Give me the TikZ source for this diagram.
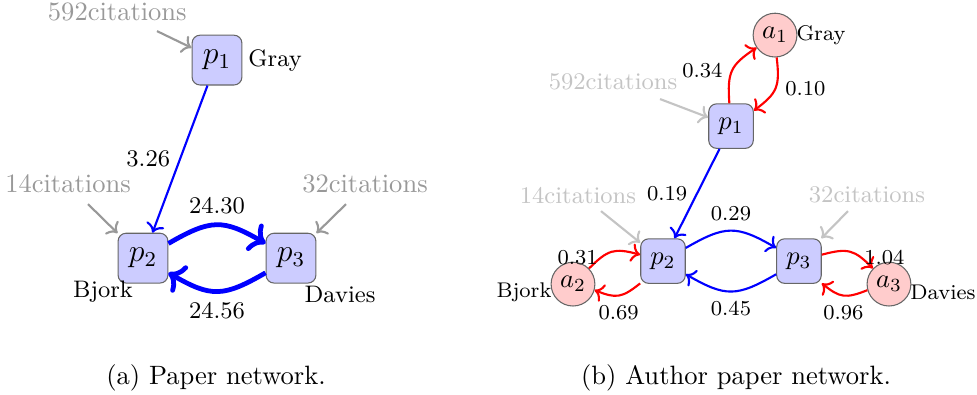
\documentclass[tikz,border=0pt]{standalone}
\usepackage{amsfonts,amssymb,amsmath}
\usepackage{xcolor}
\usepackage[]{tikz}
\usetikzlibrary{positioning,calc}
\usetikzlibrary{arrows.meta,arrows}
\definecolor{paperBlue}{HTML}{CCCCFF}
\definecolor{authorRed}{HTML}{FFCCCC}
\definecolor{citeGray}{HTML}{999999}
\definecolor{citeLight}{HTML}{C4C4C4}
\tikzstyle{nodePaper}  =[rectangle,rounded corners=3pt,fill=paperBlue,draw=black!60,minimum size=0.66cm,inner sep=1pt,font=\large]
\tikzstyle{nodePaperS} =[rectangle,rounded corners=3pt,fill=paperBlue,draw=black!60,minimum size=0.59cm,inner sep=1pt]
\tikzstyle{nodeAuthor} =[circle,fill=authorRed,draw=black!60,minimum size=0.58cm,inner sep=1pt]
\tikzstyle{citeA}      =[text=citeGray]
\tikzstyle{citeB}      =[text=citeLight,font=\small]
\tikzstyle{lblA}       =[text=black,font=\small]
\tikzstyle{lblB}       =[text=black,font=\footnotesize]
\tikzstyle{bendy}      =[bend left=30,looseness=1.3]

\begin{document}
\begin{tikzpicture}[auto, on grid]
  \useasboundingbox (0,0) rectangle (12.94,5.22);

  % paper network
  \node[nodePaper] (pa1) at (2.874,4.424) {$p_1$};
  \node[nodePaper] (pa2) [below left = 2.623cm and 0.98cm of pa1] {$p_2$};
  \node[nodePaper] (pa3) [right = 1.96cm of pa2] {$p_3$};
  \node[lblA] (na1) [right = 0.77cm of pa1] {Gray};
  \node[lblA] (na2) [below left = 0.45cm and 0.53cm of pa2] {Bjork};
  \node[lblA] (na3) [below right = 0.48cm and 0.65cm of pa3] {Davies};
  \node[citeA] (ta1) [above left = 0.64cm and 1.32cm of pa1] {592citations};
  \node[citeA] (ta2) [above left = 0.98cm and 0.993cm of pa2] {14citations};
  \node[citeA] (ta3) [above right = 0.98cm and 0.98cm of pa3] {32citations};
  \node[coordinate] (ca1) [above left = 0.384cm and 0.795cm of pa1] {};
  \node[coordinate] (ca2) [above left = 0.715cm and 0.728cm of pa2] {};
  \node[coordinate] (ca3) [above right = 0.715cm and 0.728cm of pa3] {};
  \path[->,citeGray,thick] (ca1) edge (pa1) (ca2) edge (pa2) (ca3) edge (pa3);
  \path[->,blue,thick] (pa1) edge node[lblA,left] {3.26} (pa2);
  \path[->,blue,line width=1.8pt] (pa2) edge[bendy] node[lblA,above] {24.30} (pa3)
    (pa3) edge[bendy] node[lblA,below] {24.56} (pa2);

  % author paper network
  \node[nodePaperS] (pb1) at (9.682,3.550) {$p_1$};
  \node[nodePaperS] (pb2) [below left = 1.788cm and 0.901cm of pb1] {$p_2$};
  \node[nodePaperS] (pb3) [right = 1.801cm of pb2] {$p_3$};
  \node[nodeAuthor] (ab1) [above right = 1.205cm and 0.583cm of pb1] {$a_1$};
  \node[nodeAuthor] (ab2) [below left = 0.305cm and 1.192cm of pb2] {$a_2$};
  \node[nodeAuthor] (ab3) [below right = 0.305cm and 1.192cm of pb3] {$a_3$};
  \node[lblB] (nb1) [right = 0.609cm of ab1] {Gray};
  \node[lblB] (nb2) [below left = 0.106cm and 0.649cm of ab2] {Bjork};
  \node[lblB] (nb3) [below right = 0.106cm and 0.715cm of ab3] {Davies};
  \node[citeB] (tb1) [above left = 0.583cm and 1.563cm of pb1] {592citations};
  \node[citeB] (tb2) [above left = 0.874cm and 1.126cm of pb2] {14citations};
  \node[citeB] (tb3) [above right = 0.874cm and 0.901cm of pb3] {32citations};
  \node[coordinate] (cb1) [above left = 0.358cm and 0.940cm of pb1] {};
  \node[coordinate] (cb2) [above left = 0.662cm and 0.821cm of pb2] {};
  \node[coordinate] (cb3) [above right = 0.662cm and 0.649cm of pb3] {};
  \path[->,citeLight,thick] (cb1) edge (pb1) (cb2) edge (pb2) (cb3) edge (pb3);
  \path[->,blue,thick] (pb1) edge node[lblB,left] {0.19} (pb2)
    (pb2) edge[bendy] node[lblB,above] {0.29} (pb3)
    (pb3) edge[bendy] node[lblB,below] {0.45} (pb2);
  \path[->,red,thick] (pb1) edge[bendy] node[lblB,left] {0.34} (ab1)
    (ab1) edge[bendy] node[lblB,right] {0.10} (pb1)
    (ab2) edge[bendy] node[lblB,near start,left,inner sep=1pt] {0.31} (pb2)
    (pb2) edge[bendy] node[lblB,below] {0.69} (ab2)
    (pb3) edge[bendy] node[lblB,near end,right,inner sep=1pt] {1.04} (ab3)
    (ab3) edge[bendy] node[lblB,below] {0.96} (pb3);

  % captions
  \node (capA) at (2.861,0.21) {(a) Paper network.};
  \node (capB) at (9.748,0.21) {(b) Author paper network.};
\end{tikzpicture}
\end{document}
